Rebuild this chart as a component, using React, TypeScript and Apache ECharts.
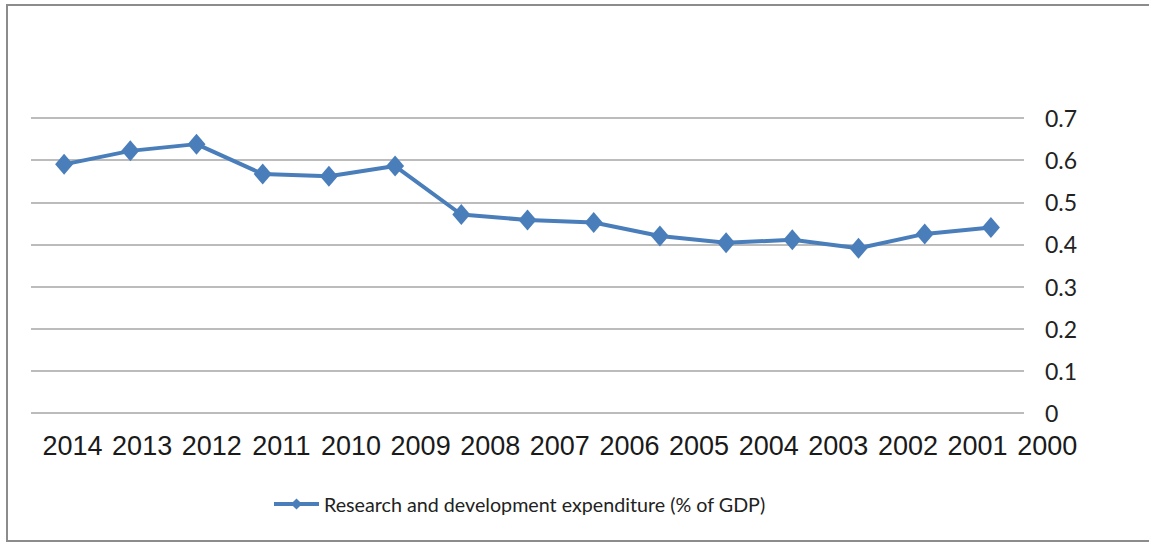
import React, { useEffect, useRef } from "react";
import * as echarts from "echarts";

const years = ["2014", "2013", "2012", "2011", "2010", "2009", "2008", "2007", "2006", "2005", "2004", "2003", "2002", "2001", "2000"];
const rdValues = [0.59, 0.622, 0.638, 0.567, 0.562, 0.586, 0.471, 0.458, 0.452, 0.42, 0.404, 0.411, 0.391, 0.425, 0.44];
const yTicks = [0, 0.1, 0.2, 0.3, 0.4, 0.5, 0.6, 0.7];
const seriesName = "Research and development expenditure (% of GDP)";

export default function App() {
  const ref = useRef<HTMLDivElement>(null);
  useEffect(() => {
    document.body.style.margin = "0";
    const chart = echarts.init(ref.current!, null, { renderer: "svg" });
    chart.setOption({
      animation: false,
      backgroundColor: "#ffffff",
      graphic: [
        {
          type: "rect",
          shape: { x: 7, y: 5, width: 1150, height: 536 },
          style: { fill: "none", stroke: "#8c8c8c", lineWidth: 2 },
          silent: true,
        },
      ],
      grid: [
        { left: 31, right: 125, top: 118, bottom: 130 },
        { left: 37.7, right: 67, top: 118, bottom: 130 },
      ],
      legend: {
        bottom: 24,
        left: 267,
        data: [seriesName],
        itemWidth: 45,
        itemHeight: 14,
        itemGap: 4,
        lineStyle: { width: 4 },
        textStyle: { fontFamily: "Lato", fontSize: 19.7, color: "#222" },
      },
      xAxis: [
        {
          type: "category",
          gridIndex: 0,
          data: years,
          boundaryGap: true,
          axisLine: { show: false },
          axisTick: { show: false },
          axisLabel: { show: false },
        },
        {
          type: "category",
          gridIndex: 1,
          data: years,
          boundaryGap: true,
          axisLine: { show: false },
          axisTick: { show: false },
          axisLabel: { fontFamily: "Liberation Sans", fontSize: 27, color: "#1a1a1a", margin: 19, interval: 0 },
        },
      ],
      yAxis: [
        {
          type: "value",
          gridIndex: 0,
          position: "right",
          min: yTicks[0],
          max: yTicks[yTicks.length - 1],
          interval: 0.1,
          axisLine: { show: false },
          axisTick: { show: false },
          axisLabel: {
            fontFamily: "Lato",
            fontSize: 23,
            color: "#222",
            margin: 21,
            align: "left",
            formatter: (v: number) => (v === 0 ? "0" : v.toFixed(1)),
          },
          splitLine: { lineStyle: { color: "#a6a6a6", width: 1.5 } },
        },
        {
          type: "value",
          gridIndex: 1,
          show: false,
          min: 0,
          max: 0.7,
        },
      ],
      series: [
        {
          name: seriesName,
          type: "line",
          xAxisIndex: 0,
          yAxisIndex: 0,
          data: rdValues,
          symbol: "diamond",
          symbolSize: [18, 21],
          lineStyle: { color: "#4a7ebb", width: 4 },
          itemStyle: { color: "#4a7ebb" },
        },
      ],
    });
    return () => chart.dispose();
  }, []);
  return <div ref={ref} style={{ width: 1149, height: 543 }} />;
}
